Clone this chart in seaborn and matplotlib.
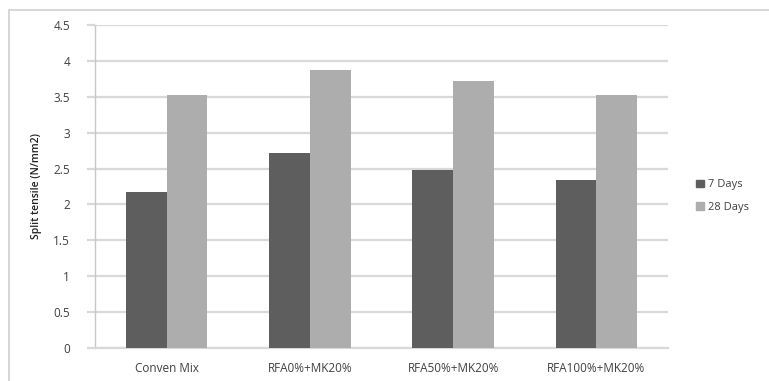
import matplotlib
matplotlib.use("Agg")
import matplotlib.pyplot as plt
import matplotlib.patches as mpatches
import seaborn as sns
import pandas as pd

# Split tensile strength of concrete mixes at 7 and 28 days
mixes = ["Conven Mix", "RFA0%+MK20%", "RFA50%+MK20%", "RFA100%+MK20%"]
days_7 = [2.18, 2.71, 2.48, 2.34]
days_28 = [3.52, 3.87, 3.72, 3.52]
series = ["7 Days", "28 Days"]
y_ticks = [0, 0.5, 1, 1.5, 2, 2.5, 3, 3.5, 4, 4.5]
y_tick_labels = ["0", "0.5", "1", "1.5", "2", "2.5", "3", "3.5", "4", "4.5"]

df = pd.DataFrame({
    "Mix": mixes * 2,
    "Age": [series[0]] * len(mixes) + [series[1]] * len(mixes),
    "Strength": days_7 + days_28,
})

sns.set_style("white")
plt.rcParams["font.family"] = ["Open Sans", "DejaVu Sans"]

fig = plt.figure(figsize=(7.69, 3.81), dpi=100)
W, H = 769, 381
ax = fig.add_axes([95 / W, (H - 348) / H, (668 - 95) / W, (348 - 25) / H])

sns.barplot(data=df, x="Mix", y="Strength", hue="Age", hue_order=series,
            palette=["#5e5e5e", "#adadad"], width=0.57, gap=0,
            saturation=1, linewidth=0, ax=ax, legend=False, zorder=3)

ax.set_xlim(-0.5, 3.5)
ax.set_ylim(0, 4.5)
ax.set_yticks(y_ticks)
ax.set_yticklabels(y_tick_labels)
ax.yaxis.grid(True, color="#d9d9d9", linewidth=1.6, zorder=0)
ax.set_axisbelow(True)
ax.xaxis.grid(False)

for side in ["top", "right"]:
    ax.spines[side].set_visible(False)
ax.spines["left"].set_color("#c8c8c8")
ax.spines["left"].set_linewidth(1.0)
ax.spines["bottom"].set_color("#d9d9d9")
ax.spines["bottom"].set_linewidth(1.6)

ax.tick_params(axis="y", length=6, width=1.6, color="#d9d9d9",
               labelsize=8.5, labelcolor="#404040", pad=12, left=True)
ax.tick_params(axis="x", length=0, labelsize=8.5, labelcolor="#404040", pad=10)

ax.set_xlabel("")
ax.set_ylabel("Split tensile (N/mm2)", fontsize=7.5, fontweight="semibold",
              color="#202020", labelpad=8)

handles = [mpatches.Patch(color=c, label=s) for c, s in zip(["#5e5e5e", "#adadad"], series)]
fig.legend(handles=handles, loc="center left", bbox_to_anchor=(686 / W, 1 - 196 / H),
           frameon=False, fontsize=8, handlelength=0.7, handleheight=0.7,
           handletextpad=0.4, labelspacing=1.0, labelcolor="#404040")

# Chart-area border
fig.patches.append(mpatches.Rectangle((9 / W, -0.1), 1.2, 1.1 - 10 / H,
                                      transform=fig.transFigure, fill=False,
                                      edgecolor="#d0d0d0", linewidth=1.2))

fig.savefig("out.png", dpi=100)
